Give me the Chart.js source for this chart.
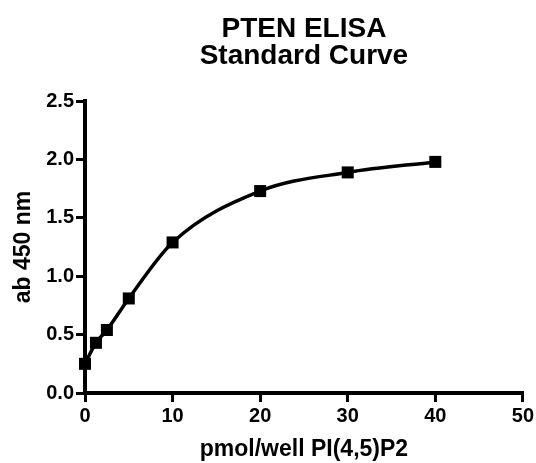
<!DOCTYPE html>
<html>
<head>
<meta charset="utf-8">
<title>PTEN ELISA Standard Curve</title>
<script src="https://cdn.jsdelivr.net/npm/chart.js@4.4.1/dist/chart.umd.min.js"></script>
<style>
  html, body { margin: 0; padding: 0; background: #fff; }
  #wrap { width: 536px; height: 463px; }
</style>
</head>
<body>
<div id="wrap"><canvas id="chart" width="536" height="463"></canvas></div>
<script>
// Datos de la curva estándar (pmol/well vs absorbancia)
const concentraciones = [0, 1.25, 2.5, 5, 10, 20, 30, 40];
const absorbancias = [0.25, 0.43, 0.54, 0.81, 1.29, 1.73, 1.89, 1.98];
const ticksX = [0, 10, 20, 30, 40, 50];
const ticksY = [0.0, 0.5, 1.0, 1.5, 2.0, 2.5];

const FUENTE = "'Liberation Sans', Arial, sans-serif";

const puntos = concentraciones.map((x, i) => ({ x: x, y: absorbancias[i] }));

new Chart(document.getElementById('chart'), {
  type: 'scatter',
  data: {
    datasets: [{
      data: puntos,
      showLine: true,
      cubicInterpolationMode: 'monotone',
      borderColor: '#000',
      borderWidth: 3.5,
      backgroundColor: '#000',
      pointStyle: 'rect',
      pointRadius: 8.5,
      pointBorderWidth: 0,
      clip: false
    }]
  },
  options: {
    responsive: false,
    animation: false,
    layout: { padding: { left: 10, right: 10, top: 0, bottom: 0 } },
    plugins: {
      legend: { display: false },
      tooltip: { enabled: false },
      title: {
        display: true,
        text: ['PTEN ELISA', 'Standard Curve'],
        fullSize: false,
        color: '#000',
        font: { family: FUENTE, size: 28, weight: 'bold', lineHeight: 0.95 },
        padding: { top: 16, bottom: 32 }
      }
    },
    scales: {
      x: {
        type: 'linear',
        min: 0,
        max: 50,
        afterBuildTicks: (s) => { s.ticks = ticksX.map(v => ({ value: v })); },
        afterFit: (s) => { s.height = 70; },
        border: { display: true, color: '#000', width: 4 },
        grid: { display: true, drawOnChartArea: false, drawTicks: true, tickLength: 9, color: '#000', lineWidth: 3 },
        ticks: { color: '#000', padding: 2, font: { family: FUENTE, size: 20, weight: 'bold' } },
        title: {
          display: true,
          text: 'pmol/well PI(4,5)P2',
          color: '#000',
          padding: { top: 1, bottom: 0 },
          font: { family: FUENTE, size: 23, weight: 'bold' }
        }
      },
      y: {
        type: 'linear',
        min: 0,
        max: 2.5,
        afterBuildTicks: (s) => { s.ticks = ticksY.map(v => ({ value: v })); },
        afterFit: (s) => { s.width = 75; },
        border: { display: true, color: '#000', width: 4 },
        grid: { display: true, drawOnChartArea: false, drawTicks: true, tickLength: 9, color: '#000', lineWidth: 3 },
        ticks: {
          color: '#000',
          padding: 2,
          font: { family: FUENTE, size: 20, weight: 'bold' },
          callback: (v) => Number(v).toFixed(1)
        },
        title: {
          display: true,
          text: 'ab 450 nm',
          color: '#000',
          padding: { top: 0, bottom: 2 },
          font: { family: FUENTE, size: 23, weight: 'bold' }
        }
      }
    }
  }
});
</script>
</body>
</html>
